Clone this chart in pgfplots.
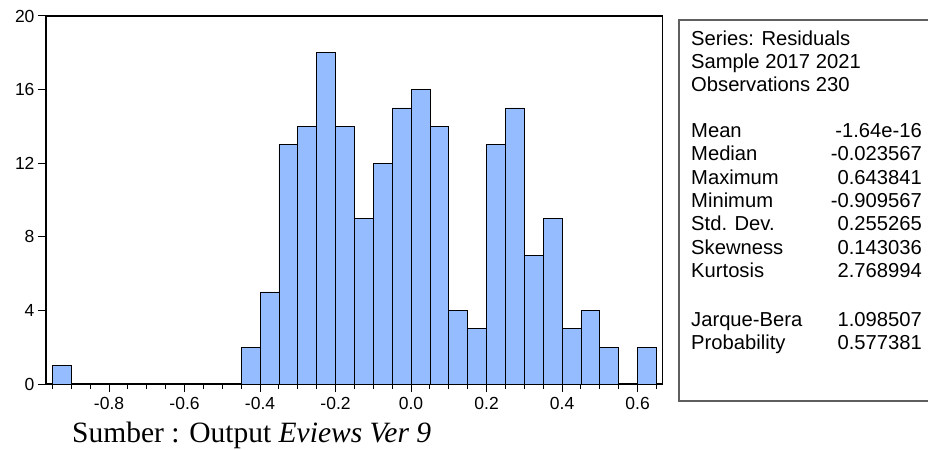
\documentclass[border=0pt]{standalone}
\usepackage{pgfplots}
\pgfplotsset{compat=1.18}
\usepackage{fontspec}
\setmainfont{Liberation Sans}
\newfontfamily\timesfont{Liberation Serif}
\definecolor{barblue}{RGB}{148,188,255}
\definecolor{boxgrey}{RGB}{95,95,95}
\begin{document}
\begin{tikzpicture}
\useasboundingbox (0,0) rectangle (928bp,450bp);
\begin{axis}[
  scale only axis, width=616.5bp, height=368bp,
  at={(46bp,66bp)}, anchor=south west,
  xmin=-0.967, xmax=0.666, ymin=0, ymax=20,
  xtick={-0.8,-0.6,-0.4,-0.2,0,0.2,0.4,0.6},
  xticklabels={-0.8,-0.6,-0.4,-0.2,0.0,0.2,0.4,0.6},
  minor xtick={-0.95,-0.9,-0.85,-0.75,-0.7,-0.65,-0.55,-0.5,-0.45,-0.35,-0.3,-0.25,-0.15,-0.1,-0.05,0.05,0.1,0.15,0.25,0.3,0.35,0.45,0.5,0.55,0.65},
  ytick={0,4,8,12,16,20},
  yticklabels={0,4,8,12,16,20},
  tick align=outside,
  xtick pos=left, ytick pos=left,
  major tick length=8bp, minor tick length=5bp,
  tick style={black, line width=1bp},
  axis line style={black, line width=1.2bp},
  ticklabel style={font=\fontsize{17.5bp}{20bp}\selectfont},
  xticklabel style={yshift=-2bp},
  /pgf/number format/assume math mode=true,
]
\addplot[ybar interval, fill=barblue, draw=black, line width=0.8bp] coordinates {
(-0.95,1) (-0.90,0) (-0.85,0) (-0.80,0) (-0.75,0) (-0.70,0) (-0.65,0) (-0.60,0) (-0.55,0) (-0.50,0)
(-0.45,2) (-0.40,5) (-0.35,13) (-0.30,14) (-0.25,18) (-0.20,14) (-0.15,9) (-0.10,12) (-0.05,15)
(0.00,16) (0.05,14) (0.10,4) (0.15,3) (0.20,13) (0.25,15) (0.30,7) (0.35,9) (0.40,3) (0.45,4)
(0.50,2) (0.55,0) (0.60,2) (0.65,0)
};
\end{axis}
\draw[boxgrey, line width=1.3bp] (940bp,49bp) -- (679bp,49bp) -- (679bp,430bp) -- (940bp,430bp);
\begin{scope}[every node/.style={inner sep=0pt, font=\fontsize{20.2bp}{22bp}\selectfont}]
\node[anchor=base west] at (691bp,404bp) {Series: Residuals};
\node[anchor=base west] at (691bp,381bp) {Sample 2017 2021};
\node[anchor=base west] at (691bp,358bp) {Observations 230};
\node[anchor=base west] at (691bp,312bp) {Mean};
\node[anchor=base west] at (691bp,289bp) {Median};
\node[anchor=base west] at (691bp,265.5bp) {Maximum};
\node[anchor=base west] at (691bp,242bp) {Minimum};
\node[anchor=base west] at (691bp,219bp) {Std. Dev.};
\node[anchor=base west] at (691bp,195.5bp) {Skewness};
\node[anchor=base west] at (691bp,172bp) {Kurtosis};
\node[anchor=base west] at (691bp,123bp) {Jarque-Bera};
\node[anchor=base west] at (691bp,100bp) {Probability};
\node[anchor=base east] at (922bp,312bp) {-1.64e-16};
\node[anchor=base east] at (922bp,289bp) {-0.023567};
\node[anchor=base east] at (922bp,265.5bp) {0.643841};
\node[anchor=base east] at (922bp,242bp) {-0.909567};
\node[anchor=base east] at (922bp,219bp) {0.255265};
\node[anchor=base east] at (922bp,195.5bp) {0.143036};
\node[anchor=base east] at (922bp,172bp) {2.768994};
\node[anchor=base east] at (922bp,123bp) {1.098507};
\node[anchor=base east] at (922bp,100bp) {0.577381};
\end{scope}
\node[anchor=base west, inner sep=0pt, font=\timesfont\fontsize{29.5bp}{32bp}\selectfont] at (72bp,8bp) {Sumber : Output \textit{Eviews Ver 9}};
\end{tikzpicture}
\end{document}
